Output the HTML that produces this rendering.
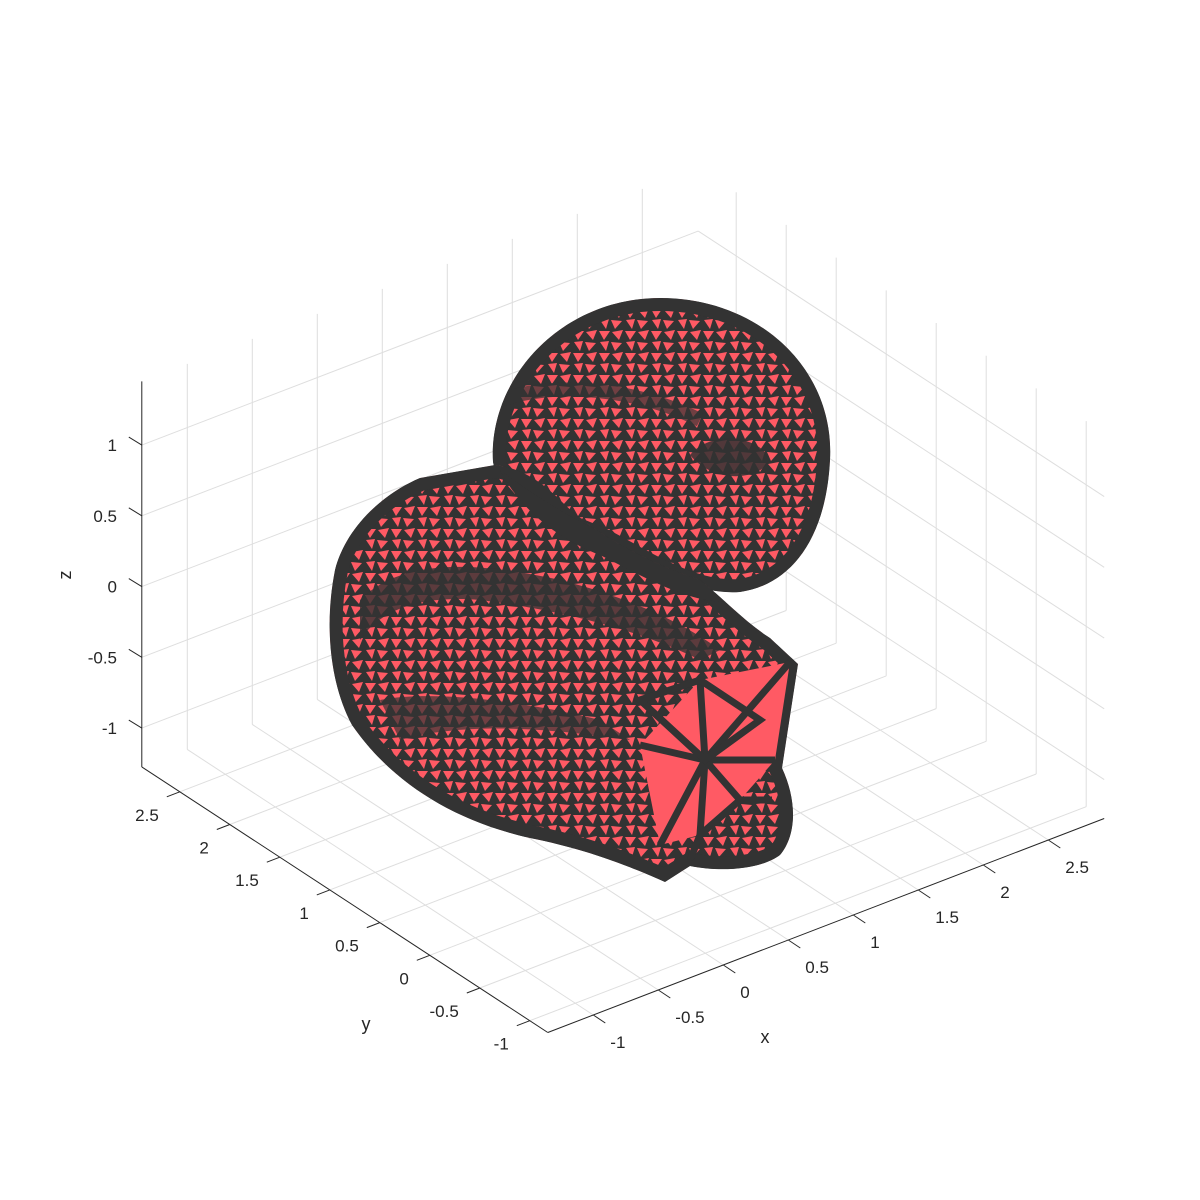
<!DOCTYPE html>
<html><head><meta charset="utf-8"><style>
html,body{margin:0;padding:0;background:#fff}
svg{display:block;font-family:"Liberation Sans",Arial,sans-serif}
</style></head><body>
<svg id="chart" width="1200" height="1200" viewBox="0 0 1200 1200" xmlns="http://www.w3.org/2000/svg">
<defs>
<pattern id="mesh" width="26" height="22" patternUnits="userSpaceOnUse">
<rect width="26" height="22" fill="#333"/>
<polygon points="1,1 12,1 6,10" fill="#ff5a64"/>
<polygon points="14,2 25,0 21,10" fill="#ff5a64"/>
<polygon points="2,12 11,11 8,21" fill="#ff5a64"/>
<polygon points="13,12 24,13 17,21" fill="#ff5a64"/>
</pattern>
<path id="headPath" d="M493,462 C488,380 560,298 660,298 C760,298 835,370 830,460 C826,540 790,585 740,592 C690,596 640,560 600,540 C550,520 500,500 493,462 Z"/>
<path id="bodyPath" d="M495,465 L420,478 C380,495 345,530 335,570 C325,620 328,680 352,725 C390,780 450,820 530,838 C580,848 620,862 665,882 L690,866 C720,872 760,870 780,855 C797,835 797,800 782,768 L798,664 L770,638 C745,622 725,600 700,580 C640,560 590,530 560,500 C540,480 520,468 495,465 Z"/>
<clipPath id="headClip"><use href="#headPath"/></clipPath>
<clipPath id="bodyClip"><use href="#bodyPath"/></clipPath>
</defs>
<g id="grid"></g>
<g id="duck">
<g clip-path="url(#headClip)">
<use href="#headPath" fill="url(#mesh)" stroke="#333" stroke-width="26"/>
<path d="M690,455 C710,430 760,435 770,460 C760,480 715,485 690,455 Z" fill="#333" opacity="0.85"/>
<path d="M500,400 C560,380 640,390 700,420" stroke="#333" stroke-width="14" fill="none" opacity="0.7"/>
</g>
<g clip-path="url(#bodyClip)">
<use href="#bodyPath" fill="url(#mesh)" stroke="#333" stroke-width="26"/>
<path d="M500,470 C540,500 600,540 680,560 C720,570 740,585 745,600 C700,610 650,580 600,555 C560,540 520,510 500,470 Z" fill="#333"/>
<path d="M360,600 C400,560 470,560 560,580 C620,595 680,620 720,650 L700,660 C640,630 560,610 480,600 C420,595 380,610 360,640 Z" fill="#333" opacity="0.8"/>
<path d="M380,700 C430,690 520,700 600,720 L630,740 C560,730 470,720 400,740 Z" fill="#333" opacity="0.7"/>
</g>
<g>
<polygon points="640,745 700,680 790,662 775,760 740,800 700,835 660,845" fill="#ff5a64"/>
<g stroke="#333" stroke-width="7" fill="none">
<path d="M705,760 L640,745 M705,760 L700,680 M705,760 L790,662 M705,760 L775,760 M705,760 L740,800 M705,760 L660,845 M705,760 L700,835"/>
<path d="M640,700 L700,680 L760,720 L705,760 Z M690,860 L700,835 L740,800 L772,800"/>
</g>
</g>
</g>
<g id="axes"></g>
</svg>
<script>
const xTicks = [-1, -0.5, 0, 0.5, 1, 1.5, 2, 2.5];
const yTicks = [-1, -0.5, 0, 0.5, 1, 1.5, 2, 2.5];
const zTicks = [-1, -0.5, 0, 0.5, 1];
const xTickLabels = ["-1", "-0.5", "0", "0.5", "1", "1.5", "2", "2.5"];
const yTickLabels = ["-1", "-0.5", "0", "0.5", "1", "1.5", "2", "2.5"];
const zTickLabels = ["-1", "-0.5", "0", "0.5", "1"];
const xLim = [-1.35, 2.93];
const yLim = [-1.18, 2.88];
const zLim = [-1.275, 1.45];

const O = [605.3, 707.4];
function P(x, y, z) {
  return [O[0] + x * 130 - y * 100, O[1] - x * 50 - y * 65.4 - z * 141.5];
}
const NS = "http://www.w3.org/2000/svg";
function line(g, a, b, color, w, name) {
  const l = document.createElementNS(NS, "line");
  l.setAttribute("x1", a[0]); l.setAttribute("y1", a[1]);
  l.setAttribute("x2", b[0]); l.setAttribute("y2", b[1]);
  l.setAttribute("stroke", color); l.setAttribute("stroke-width", w);
  
  
  g.appendChild(l);
}
function text(g, p, s, anchor, name, size) {
  const t = document.createElementNS(NS, "text");
  t.setAttribute("x", p[0]); t.setAttribute("y", p[1]);
  t.setAttribute("text-anchor", anchor);
  t.setAttribute("font-size", size || 17);
  t.setAttribute("fill", "#262626");
  t.textContent = s;
  
  
  g.appendChild(t);
  return t;
}
const grid = document.getElementById("grid");
const gc = "#dedede";
xTicks.forEach(x => line(grid, P(x, yLim[1], zLim[0]), P(x, yLim[1], zLim[1]), gc, 1, "grid-line-x"));
zTicks.forEach(z => line(grid, P(xLim[0], yLim[1], z), P(xLim[1], yLim[1], z), gc, 1, "grid-line-z"));
yTicks.forEach(y => line(grid, P(xLim[1], y, zLim[0]), P(xLim[1], y, zLim[1]), gc, 1, "grid-line-y"));
zTicks.forEach(z => line(grid, P(xLim[1], yLim[0], z), P(xLim[1], yLim[1], z), gc, 1, "grid-line-z"));
xTicks.forEach(x => line(grid, P(x, yLim[0], zLim[0]), P(x, yLim[1], zLim[0]), gc, 1, "grid-line-x"));
yTicks.forEach(y => line(grid, P(xLim[0], y, zLim[0]), P(xLim[1], y, zLim[0]), gc, 1, "grid-line-y"));

const ax = document.getElementById("axes");
const ac = "#262626";
line(ax, P(xLim[0], yLim[1], zLim[0]), P(xLim[0], yLim[1], zLim[1]), ac, 1, "z-axis-line");
line(ax, P(xLim[0], yLim[1], zLim[0]), P(xLim[0], yLim[0], zLim[0]), ac, 1, "y-axis-line");
line(ax, P(xLim[0], yLim[0], zLim[0]), P(xLim[1], yLim[0], zLim[0]), ac, 1, "x-axis-line");
zTicks.forEach((z, i) => {
  const a = P(xLim[0], yLim[1], z);
  line(ax, a, [a[0] - 13, a[1] - 8], ac, 1, "z-tick");
  text(ax, [117, a[1] + 6], zTickLabels[i], "end", "z-tick-label");
});
yTicks.forEach((y, i) => {
  const a = P(xLim[0], y, zLim[0]);
  line(ax, a, [a[0] - 13, a[1] + 5], ac, 1, "y-tick");
  text(ax, [a[0] - 21, a[1] + 29], yTickLabels[i], "end", "y-tick-label");
});
xTicks.forEach((x, i) => {
  const a = P(x, yLim[0], zLim[0]);
  line(ax, a, [a[0] + 12, a[1] + 8], ac, 1, "x-tick");
  text(ax, [a[0] + 17, a[1] + 33], xTickLabels[i], "start", "x-tick-label");
});
text(ax, [765, 1043], "x", "middle", "x-axis-title", 18);
text(ax, [366, 1030], "y", "middle", "y-axis-title", 18);
const zt = text(ax, [71, 575], "z", "middle", "z-axis-title", 18);
zt.setAttribute("transform", "rotate(-90 71 575)");
</script>
</body></html>
